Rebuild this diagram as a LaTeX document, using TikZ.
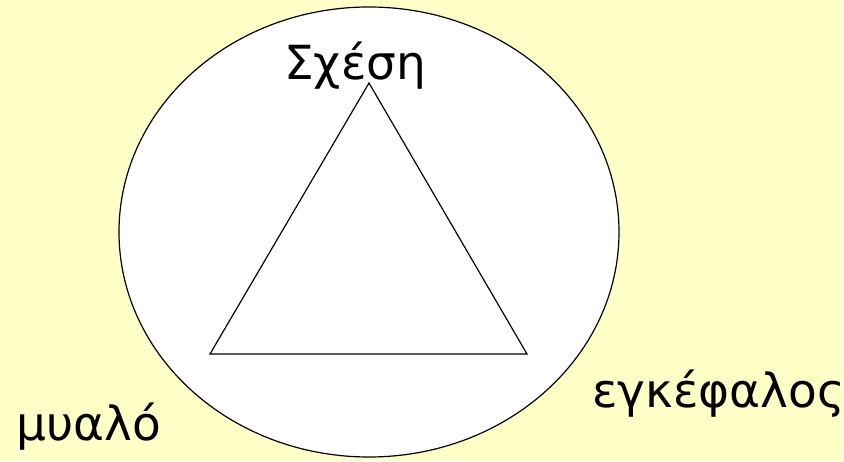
\documentclass[tikz,border=0pt]{standalone}
\usepackage{fontspec}
\usepackage{xcolor}
\usetikzlibrary{positioning}
\newfontfamily\greekfont{DejaVu Sans}
\definecolor{paper}{HTML}{FFFFC8}
\definecolor{ink}{HTML}{000000}
\tikzset{
  word/.style={inner sep=0pt,anchor=base west,font=\greekfont\fontsize{47}{52}\selectfont,text=ink},
  outline/.style={draw=ink,line width=1.2pt,fill=white}
}
\begin{document}
\begin{tikzpicture}[x=1pt,y=1pt]
    \fill[paper] (0,0) rectangle (844,461);
    \useasboundingbox (0,0) rectangle (844,461);
    \draw[outline] (369,229) ellipse [x radius=250,y radius=225];
    \coordinate (top) at (369,378);
    \coordinate (left) at (210,107);
    \coordinate (right) at (527,107);
    \draw[draw=ink,line width=1.2pt,line join=miter] (top) -- (left) -- (right) -- cycle;
    \node[word] (relation) at (284,381) {Σχέση};
    \node[word] (mind) at (16,20) {μυαλό};
    \node[word] (brain) at (592,53) {εγκέφαλος};
\end{tikzpicture}
\end{document}
